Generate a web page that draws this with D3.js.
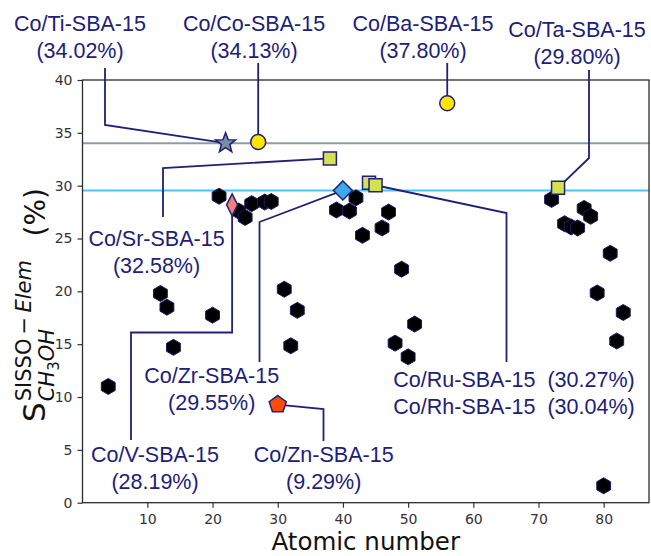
<!DOCTYPE html>
<html>
<head>
<meta charset="utf-8">
<script src="https://cdn.jsdelivr.net/npm/d3@7/dist/d3.min.js"></script>
<style>
  body { margin: 0; background: #fff; }
  svg { display: block; }
</style>
</head>
<body>
<div id="chart"></div>
<script>
'use strict';

// atomic number / selectivity (%) of the plain hexagon points
let elemZ = [4, 12, 13, 14, 20, 21, 24, 25, 26, 28, 29, 31, 32, 33,
    39, 41, 42, 43, 46, 47, 48, 49, 50, 51,
    72, 74, 75, 76, 77, 78, 79, 80, 81, 82, 83];
let elemValues = [11.0, 19.8, 18.5, 14.7, 17.75, 29.0, 27.6, 27.0, 28.3, 28.45, 28.5, 20.2, 14.85, 18.2,
    27.7, 27.6, 28.85, 25.3, 26.0, 27.5, 15.1, 22.1, 13.8, 16.9,
    28.7, 26.4, 26.1, 26.0, 27.85, 27.1, 19.85, 1.6, 23.6, 15.3, 18.0];

// labelled catalysts
let hlNames = ['Co/Ti-SBA-15', 'Co/Co-SBA-15', 'Co/Ba-SBA-15', 'Co/Ta-SBA-15', 'Co/Sr-SBA-15',
    'Co/Ru-SBA-15', 'Co/Rh-SBA-15', 'Co/Zr-SBA-15', 'Co/V-SBA-15', 'Co/Zn-SBA-15'];
let hlZ = [22, 27, 56, 73, 38, 44, 45, 40, 23, 30];
let hlValues = [34.02, 34.13, 37.80, 29.80, 32.58, 30.27, 30.04, 29.55, 28.19, 9.29];

// horizontal reference lines (Ti and Zr)
let refValues = [34.02, 29.55];

let xTicks = [10, 20, 30, 40, 50, 60, 70, 80];
let yTicks = [0, 5, 10, 15, 20, 25, 30, 35, 40];

// ---- styling / layout ----
let navy = '#20207a';

let markerStyle = {
    'Co/Ti-SBA-15': {shape: 'star', r: 10.5, fill: '#7c8ba2'},
    'Co/Co-SBA-15': {shape: 'circle', r: 7.5, fill: '#ffe600'},
    'Co/Ba-SBA-15': {shape: 'circle', r: 7.5, fill: '#ffe600'},
    'Co/Ta-SBA-15': {shape: 'square', r: 6.5, fill: '#d5e24f'},
    'Co/Sr-SBA-15': {shape: 'square', r: 6.5, fill: '#d5e24f'},
    'Co/Ru-SBA-15': {shape: 'square', r: 6.5, fill: '#d5e24f'},
    'Co/Rh-SBA-15': {shape: 'square', r: 6.5, fill: '#d5e24f'},
    'Co/Zr-SBA-15': {shape: 'diamond', r: 9.5, fill: '#3ea8ef'},
    'Co/V-SBA-15': {shape: 'thindiamond', r: 11, fill: '#f27f7c'},
    'Co/Zn-SBA-15': {shape: 'pentagon', r: 9, fill: '#ff4a0a'}
};

// text centre (first baseline) and elbow points of the leader line, in px;
// a null x means "straight above/below the marker"
let annotations = [
    {names: ['Co/Ti-SBA-15'], at: [80, 31], path: [[105, 68], [105, 125]]},
    {names: ['Co/Co-SBA-15'], at: [254, 31], path: [[null, 63]]},
    {names: ['Co/Ba-SBA-15'], at: [423, 31], path: [[null, 63]]},
    {names: ['Co/Ta-SBA-15'], at: [577, 37], path: [[589, 70], [589, 158]]},
    {names: ['Co/Sr-SBA-15'], at: [156.5, 246], path: [[163, 217], [163, 168]]},
    {names: ['Co/Zr-SBA-15'], at: [211.7, 382.5], path: [[259.5, 362], [259.5, 222]]},
    {names: ['Co/V-SBA-15'], at: [155, 461.5], path: [[131, 440], [131, 332.5], [null, 332.5]]},
    {names: ['Co/Zn-SBA-15'], at: [323.7, 461.5], path: [[323.5, 441], [323.5, 409]]},
    {names: ['Co/Ru-SBA-15', 'Co/Rh-SBA-15'], at: [514, 387], path: [[506.5, 362], [506.5, 213]]}
];

let width = 651, height = 556;
let x = d3.scaleLinear().domain([0.05, 86.95]).range([82.5, 649]);
let y = d3.scaleLinear().domain([0, 40]).range([502.7, 80]);

draw();

function draw() {
    let svg = d3.select('#chart').append('svg')
        .attr('width', width)
        .attr('height', height);

    drawAxes(svg);

    svg.append('g').selectAll('line')
        .data(refValues)
        .enter()
        .append('line')
        .attr('x1', x.range()[0])
        .attr('x2', x.range()[1])
        .attr('y1', d => y(d))
        .attr('y2', d => y(d))
        .attr('stroke', (d, i) => i === 0 ? '#8e9ca6' : '#4cc4f6')
        .attr('stroke-width', 2);

    drawAnnotations(svg);

    let pts = elemZ.map((z, i) => ({z: z, v: elemValues[i]}));
    svg.append('g').selectAll('path')
        .data(pts)
        .enter()
        .append('path')
        .attr('transform', d => `translate(${x(d.z)},${y(d.v)})`)
        .attr('d', polygon(6, 8, -90))
        .attr('fill', '#000')
        .attr('stroke', '#1c1c6a')
        .attr('stroke-width', 1);

    let hl = hlNames.map((n, i) => ({name: n, z: hlZ[i], v: hlValues[i]}));
    svg.append('g').selectAll('path')
        .data(hl)
        .enter()
        .append('path')
        .attr('transform', d => `translate(${x(d.z)},${y(d.v)})`)
        .attr('d', d => markerPath(markerStyle[d.name]))
        .attr('fill', d => markerStyle[d.name].fill)
        .attr('stroke', navy)
        .attr('stroke-width', 1.5)
        .attr('stroke-linejoin', 'miter');

    svg.append('rect')
        .attr('x', x.range()[0])
        .attr('y', y.range()[1])
        .attr('width', x.range()[1] - x.range()[0])
        .attr('height', y.range()[0] - y.range()[1])
        .attr('fill', 'none')
        .attr('stroke', '#2b2b2b')
        .attr('stroke-width', 1.3);

    drawYLabel(svg);

    svg.append('text')
        .attr('x', (x.range()[0] + x.range()[1]) / 2)
        .attr('y', 550)
        .attr('text-anchor', 'middle')
        .attr('font-family', 'DejaVu Sans')
        .attr('font-size', 24.5)
        .attr('fill', '#111')
        .text('Atomic number');
}

function drawAxes(svg) {
    let gx = svg.append('g')
        .attr('transform', `translate(0,${y.range()[0]})`)
        .call(d3.axisBottom(x).tickValues(xTicks).tickSize(5).tickPadding(6).tickSizeOuter(0));
    let gy = svg.append('g')
        .attr('transform', `translate(${x.range()[0]},0)`)
        .call(d3.axisLeft(y).tickValues(yTicks).tickSize(5).tickPadding(5).tickSizeOuter(0));

    [gx, gy].forEach(function (g) {
        g.select('.domain').remove();
        g.selectAll('line').attr('stroke', '#333').attr('stroke-width', 1.2);
        g.selectAll('text')
            .attr('font-family', 'DejaVu Sans')
            .attr('font-size', 14)
            .attr('fill', '#333');
    });
}

function drawAnnotations(svg) {
    let g = svg.append('g');
    annotations.forEach(function (a) {
        let idx = a.names.map(n => hlNames.indexOf(n));
        let last = idx[idx.length - 1];
        let mx = x(hlZ[last]), my = y(hlValues[last]);
        let pts = a.path.map(p => [p[0] === null ? mx : p[0], p[1]]);
        pts.push([mx, my]);

        g.append('path')
            .attr('d', d3.line()(pts))
            .attr('fill', 'none')
            .attr('stroke', navy)
            .attr('stroke-width', 1.8);

        let lines;
        if (idx.length === 1) {
            lines = [hlNames[idx[0]], '(' + hlValues[idx[0]].toFixed(2) + '%)'];
        } else {
            lines = idx.map(i => hlNames[i] + '\u00a0\u00a0(' + hlValues[i].toFixed(2) + '%)');
        }
        let t = g.append('text')
            .attr('text-anchor', 'middle')
            .attr('font-family', 'Liberation Sans, Arial, sans-serif')
            .attr('font-size', 21.5)
            .attr('fill', navy);
        lines.forEach(function (s, k) {
            t.append('tspan')
                .attr('x', a.at[0])
                .attr('y', a.at[1] + k * 27)
                .text(s);
        });
    });
}

function drawYLabel(svg) {
    let cy = (y.range()[0] + y.range()[1]) / 2;
    let g = svg.append('g')
        .attr('transform', `translate(45,${cy}) rotate(-90)`)
        .attr('font-family', 'DejaVu Sans')
        .attr('fill', '#111');
    // rotated frame: +x runs up the page
    let x0 = cy - 422;

    let s = g.append('text').attr('x', x0).attr('y', 0).attr('font-size', 31).text('S');
    let sw = s.node().getComputedTextLength();

    let sup = g.append('text').attr('x', x0 + sw + 1).attr('y', -14).attr('font-size', 21);
    sup.append('tspan').text('SISSO\u2009\u2212\u2009');
    sup.append('tspan').attr('font-style', 'italic').text('Elem');

    let sub = g.append('text').attr('x', x0 + sw + 1).attr('y', 9).attr('font-size', 21);
    sub.append('tspan').attr('font-style', 'italic').text('CH');
    sub.append('tspan').attr('font-size', 15).attr('dy', 5).text('3');
    sub.append('tspan').attr('font-style', 'italic').attr('dy', -5).text('OH');

    g.append('text')
        .attr('x', cy - 188)
        .attr('y', 0)
        .attr('text-anchor', 'end')
        .attr('font-size', 28)
        .text('(%)');
}

function polygon(n, r, startDeg) {
    let pts = d3.range(n).map(function (k) {
        let a = (startDeg + k * 360 / n) * Math.PI / 180;
        return [r * Math.cos(a), r * Math.sin(a)];
    });
    return 'M' + pts.join('L') + 'Z';
}

function markerPath(st) {
    let r = st.r;
    if (st.shape === 'circle') {
        return d3.symbol(d3.symbolCircle, Math.PI * r * r)();
    }
    if (st.shape === 'square') {
        return `M${-r},${-r}H${r}V${r}H${-r}Z`;
    }
    if (st.shape === 'diamond') {
        return `M0,${-r}L${r},0L0,${r}L${-r},0Z`;
    }
    if (st.shape === 'thindiamond') {
        return `M0,${-r}L${r * 0.5},0L0,${r}L${-r * 0.5},0Z`;
    }
    if (st.shape === 'pentagon') {
        return polygon(5, r, -90);
    }
    // star
    let pts = d3.range(10).map(function (k) {
        let a = (-90 + k * 36) * Math.PI / 180;
        let rr = k % 2 === 0 ? r : r * 0.42;
        return [rr * Math.cos(a), rr * Math.sin(a)];
    });
    return 'M' + pts.join('L') + 'Z';
}
</script>
</body>
</html>
